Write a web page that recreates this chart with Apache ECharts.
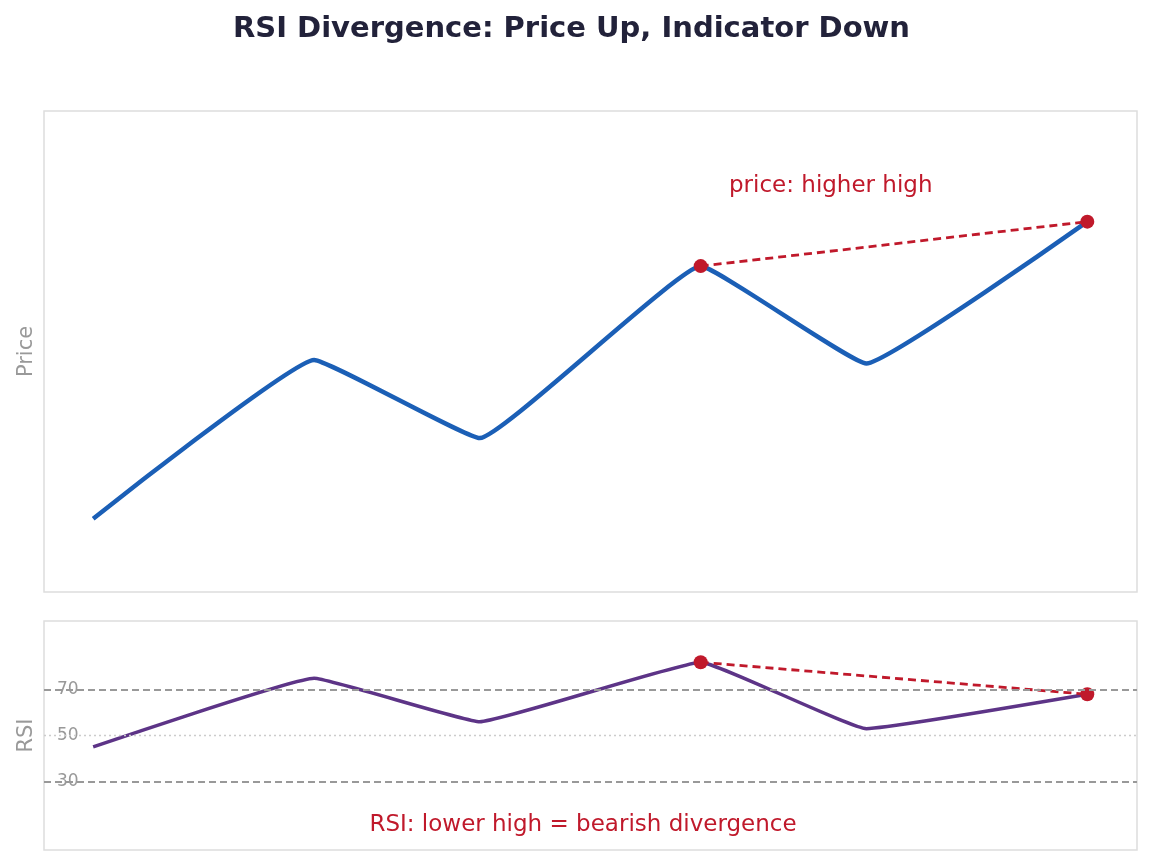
<!DOCTYPE html>
<html>
<head>
<meta charset="utf-8">
<script src="https://cdn.jsdelivr.net/npm/echarts@6/dist/echarts.min.js"></script>
<style>
  html, body { margin: 0; padding: 0; background: #fff; }
  #chart { width: 1152px; height: 865px; }
</style>
</head>
<body>
<div id="chart"></div>
<script>
// swing points: bar index, price, RSI
const pivotIdx = [0, 4, 7, 11, 14, 18];
const priceVals = [96.1, 109.3, 102.8, 117.1, 109.0, 120.8];
const rsiVals = [45, 75, 56, 82, 53, 68];

// the two highs being compared
const highIdx = [11, 18];
const priceHighs = [117.1, 120.8];
const rsiHighs = [82, 68];

const rsiLevels = [30, 50, 70];

const RED = '#c0192b';
const FONT = 'DejaVu Sans';

const chart = echarts.init(document.getElementById('chart'));

const pricePts = pivotIdx.map((x, i) => [x, priceVals[i]]);
const rsiPts = pivotIdx.map((x, i) => [x, rsiVals[i]]);
const priceHighPts = highIdx.map((x, i) => [x, priceHighs[i]]);
const rsiHighPts = highIdx.map((x, i) => [x, rsiHighs[i]]);

const xAxisBase = {
  type: 'value',
  min: -0.89,
  max: 18.9,
  axisLine: { show: false },
  axisTick: { show: false },
  axisLabel: { show: false },
  splitLine: { show: false }
};

const option = {
  backgroundColor: '#fff',
  animation: false,
  textStyle: { fontFamily: FONT },
  title: {
    text: 'RSI Divergence: Price Up, Indicator Down',
    left: 228,
    top: 10,
    textStyle: { fontSize: 29, fontWeight: 'bold', color: '#22223a', fontFamily: FONT }
  },
  grid: [
    { left: 44, top: 111, width: 1093, height: 481, show: true, borderColor: '#dddddd', borderWidth: 1.5, backgroundColor: 'transparent' },
    { left: 44, top: 621, width: 1093, height: 229, show: true, borderColor: '#dddddd', borderWidth: 1.5, backgroundColor: 'transparent' }
  ],
  xAxis: [
    Object.assign({ gridIndex: 0 }, xAxisBase),
    Object.assign({ gridIndex: 1 }, xAxisBase)
  ],
  yAxis: [
    {
      gridIndex: 0,
      type: 'value',
      min: 90,
      max: 130,
      name: 'Price',
      nameLocation: 'middle',
      nameGap: 7,
      nameTextStyle: { color: '#999999', fontSize: 21, fontFamily: FONT },
      axisLine: { show: false },
      axisTick: { show: false },
      axisLabel: { show: false },
      splitLine: { show: false }
    },
    {
      gridIndex: 1,
      type: 'value',
      min: 0,
      max: 100,
      interval: 10,
      name: 'RSI',
      nameLocation: 'middle',
      nameGap: 7,
      nameTextStyle: { color: '#999999', fontSize: 21, fontFamily: FONT },
      axisLine: { show: false },
      axisTick: { show: false },
      splitLine: { show: false },
      axisLabel: {
        inside: true,
        margin: 13,
        color: '#999999',
        fontSize: 17,
        fontFamily: FONT,
        formatter: v => (rsiLevels.includes(v) ? String(v) : '')
      }
    }
  ],
  series: [
    {
      type: 'line',
      xAxisIndex: 0,
      yAxisIndex: 0,
      data: pricePts,
      smooth: 0.09,
      showSymbol: false,
      lineStyle: { color: '#1b5fb6', width: 4.5 },
      z: 2
    },
    {
      type: 'line',
      xAxisIndex: 0,
      yAxisIndex: 0,
      data: priceHighPts,
      symbol: 'circle',
      symbolSize: 14,
      itemStyle: { color: RED },
      lineStyle: { color: RED, width: 2.8, type: [8, 5] },
      z: 3
    },
    {
      type: 'line',
      xAxisIndex: 1,
      yAxisIndex: 1,
      data: rsiPts,
      smooth: 0.09,
      showSymbol: false,
      lineStyle: { color: '#5d3487', width: 3.5 },
      z: 2,
      markLine: {
        silent: true,
        symbol: 'none',
        label: { show: false },
        data: [
          { yAxis: rsiLevels[2], lineStyle: { color: '#999999', width: 1.8, type: [7, 4] } },
          { yAxis: rsiLevels[1], lineStyle: { color: '#cccccc', width: 1.4, type: [2, 3] } },
          { yAxis: rsiLevels[0], lineStyle: { color: '#999999', width: 1.8, type: [7, 4] } }
        ]
      }
    },
    {
      type: 'line',
      xAxisIndex: 1,
      yAxisIndex: 1,
      data: rsiHighPts,
      symbol: 'circle',
      symbolSize: 14,
      itemStyle: { color: RED },
      lineStyle: { color: RED, width: 2.8, type: [8, 5] },
      z: 3
    }
  ],
  graphic: [
    {
      type: 'text',
      x: 729,
      y: 186,
      style: { text: 'price: higher high', fill: RED, font: '23px "DejaVu Sans"', verticalAlign: 'middle' }
    },
    {
      type: 'text',
      x: 583,
      y: 825,
      style: { text: 'RSI: lower high = bearish divergence', fill: RED, font: '23px "DejaVu Sans"', align: 'center', verticalAlign: 'middle' }
    }
  ]
};

chart.setOption(option);
</script>
</body>
</html>
